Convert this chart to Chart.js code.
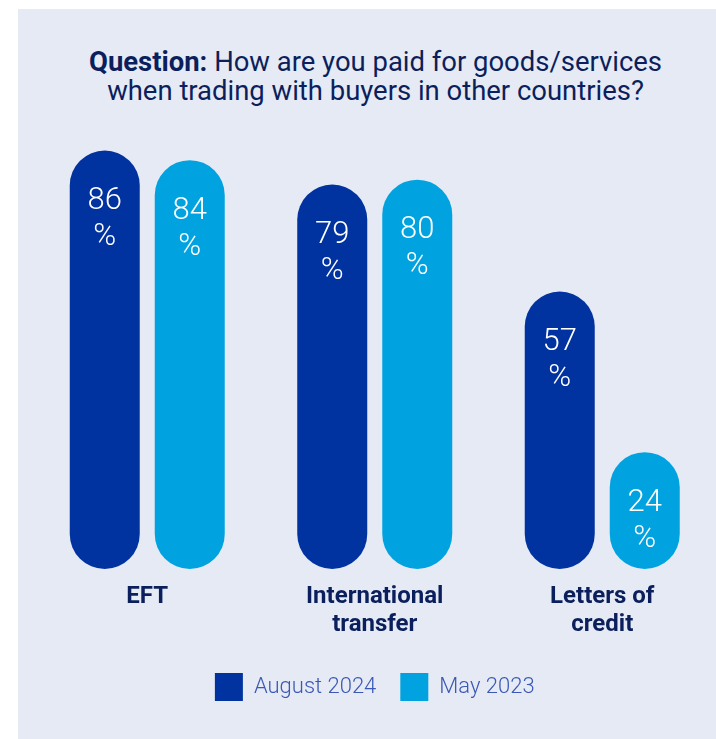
<!DOCTYPE html>
<html>
<head>
<meta charset="utf-8">
<script src="https://cdn.jsdelivr.net/npm/chart.js@4.4.1/dist/chart.umd.min.js"></script>
<style>
  html, body { margin: 0; padding: 0; background: #fff; }
  #wrap { position: relative; width: 716px; height: 739px; overflow: hidden; }
  #panel { position: absolute; left: 18px; top: 9px; right: 0; bottom: 0; background: #E6EAF5; }
  #title {
    position: absolute; left: 0; top: 47px; width: 751px;
    text-align: center; font-family: Roboto, sans-serif; font-size: 28px;
    line-height: 29px; color: #0B1F5C; transform: scaleX(0.98);
    transform-origin: 375.5px 0;
  }
  #title b { font-weight: 700; }
  canvas { position: absolute; left: 0; top: 0; }
</style>
</head>
<body>
<div id="wrap">
  <div id="panel"></div>
  <div id="title"><b>Question:</b> How are you paid for goods/services<br>when trading with buyers in other countries?</div>
  <canvas id="bar-chart" width="716" height="739"></canvas>
</div>
<script>
// payment methods, two survey waves
const categories = [["EFT"], ["International", "transfer"], ["Letters of", "credit"]];
const seriesNames = ["August 2024", "May 2023"];
const august2024 = [86, 79, 57];
const may2023 = [84, 80, 24];

const navy = "#0B1F5C";

// white "86 / %" labels inside the top of each bar
const valueLabels = {
  id: "valueLabels",
  afterDatasetsDraw(chart) {
    const ctx = chart.ctx;
    ctx.save();
    ctx.fillStyle = "#ffffff";
    ctx.font = "300 31px Roboto, sans-serif";
    ctx.textAlign = "center";
    ctx.textBaseline = "middle";
    chart.data.datasets.forEach((ds, i) => {
      chart.getDatasetMeta(i).data.forEach((bar, j) => {
        ctx.fillText(String(ds.data[j]), bar.x, bar.y + 51);
        ctx.fillText("%", bar.x, bar.y + 87);
      });
    });
    ctx.restore();
  },
};

const dataBarChart = {
  labels: categories,
  datasets: [
    {
      label: seriesNames[0],
      data: august2024,
      backgroundColor: "#0033A0",
      borderWidth: 0,
      borderRadius: 35,
      borderSkipped: false,
    },
    {
      label: seriesNames[1],
      data: may2023,
      backgroundColor: "#00A3E0",
      borderWidth: 0,
      borderRadius: 35,
      borderSkipped: false,
    },
  ],
};

const configBarChart = {
  type: "bar",
  data: dataBarChart,
  options: {
    responsive: false,
    animation: false,
    devicePixelRatio: 1,
    categoryPercentage: 0.7473,
    barPercentage: 0.8235,
    layout: {
      padding: { top: 131, left: 33.5, right: 0, bottom: 28 },
    },
    scales: {
      x: {
        grid: { display: false, drawTicks: false },
        border: { display: false },
        // keep the label band fixed so the legend sits where it should
        afterFit(scale) {
          scale.height = 80;
        },
        ticks: {
          color: navy,
          padding: 14,
          maxRotation: 0,
          autoSkip: false,
          font: { family: "Roboto, sans-serif", size: 24, weight: "bold", lineHeight: 28 / 24 },
        },
      },
      y: {
        display: false,
        min: 0,
        max: 90,
      },
    },
    plugins: {
      tooltip: { enabled: false },
      legend: {
        position: "bottom",
        labels: {
          boxWidth: 28,
          boxHeight: 28,
          padding: 24,
          color: "#3A58B4",
          font: { family: "Roboto, sans-serif", size: 22, weight: "300" },
        },
      },
    },
  },
  plugins: [valueLabels],
};

const barElement = document.getElementById("bar-chart");
const myBarChart = new Chart(barElement, configBarChart);
</script>
</body>
</html>
